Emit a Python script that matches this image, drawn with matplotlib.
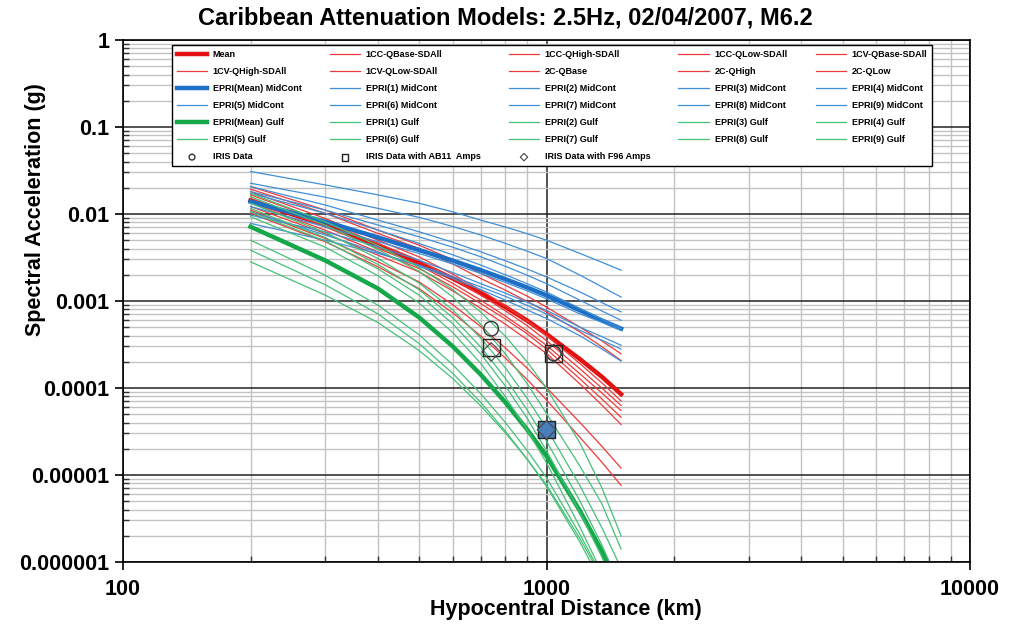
import matplotlib.pyplot as plt
from matplotlib import font_manager
from matplotlib.ticker import LogLocator, NullFormatter

names = {f.name for f in font_manager.fontManager.ttflist}
narrow = 'Liberation Sans Narrow' if 'Liberation Sans Narrow' in names else 'Liberation Sans'
plt.rcParams['font.family'] = ['Liberation Sans', 'DejaVu Sans']

dist_km = [200, 300, 400, 500, 600, 700, 800, 900, 1000, 1200, 1350, 1500]

# Caribbean models (red)
red_mean = [0.01426, 0.00746, 0.00439, 0.00275, 0.00182, 0.00123, 0.000851, 0.000596,
            0.000417, 0.000214, 0.000135, 8.5e-5]
red_labels = ['1CC-QBase-SDAll', '1CC-QHigh-SDAll', '1CC-QLow-SDAll', '1CV-QBase-SDAll',
              '1CV-QHigh-SDAll', '1CV-QLow-SDAll', '2C-QBase', '2C-QHigh', '2C-QLow']
red_sa = [
    [0.0207, 0.0111, 0.00653, 0.00439, 0.00299, 0.00207, 0.00151, 0.00114, 0.00085, 0.0005, 0.000349, 0.000247],
    [0.0193, 0.0102, 0.00598, 0.00402, 0.00267, 0.00181, 0.00133, 0.00099, 0.00075, 0.00044, 0.000299, 0.000207],
    [0.0181, 0.0089, 0.0050, 0.00322, 0.00204, 0.00133, 0.00088, 0.00059, 0.0004, 0.00019, 0.000115, 7.1e-5],
    [0.0166, 0.00817, 0.00459, 0.00294, 0.00182, 0.00116, 0.00077, 0.00052, 0.00035, 0.000166, 0.0001, 6.3e-5],
    [0.0152, 0.00714, 0.00402, 0.00258, 0.0016, 0.00102, 0.00067, 0.00045, 0.00031, 0.000145, 8.8e-5, 5.5e-5],
    [0.0133, 0.00653, 0.00367, 0.00236, 0.00146, 0.00093, 0.00062, 0.00042, 0.00028, 0.000127, 7.5e-5, 4.6e-5],
    [0.0122, 0.00598, 0.00336, 0.00216, 0.00131, 0.00082, 0.00054, 0.00036, 0.00025, 0.000111, 6.4e-5, 3.8e-5],
    [0.0111, 0.00524, 0.00282, 0.00166, 0.00091, 0.000506, 0.000288, 0.000169, 0.000101, 4.0e-5, 2.15e-5, 1.2e-5],
    [0.0102, 0.0048, 0.00247, 0.00139, 0.000733, 0.000395, 0.00022, 0.000125, 7.3e-5, 2.7e-5, 1.41e-5, 7.6e-6],
]

# EPRI mid-continent (blue)
blue_mean = [0.0139, 0.00817, 0.00538, 0.00385, 0.00292, 0.00226, 0.00178, 0.00143,
             0.00116, 0.00078, 0.0006, 0.00048]
blue_sa = [
    [0.0308, 0.0216, 0.0166, 0.0133, 0.0106, 0.0085, 0.00708, 0.00594, 0.0050, 0.00352, 0.00279, 0.00226],
    [0.0226, 0.0156, 0.0116, 0.00916, 0.0072, 0.00573, 0.00459, 0.00374, 0.00308, 0.00198, 0.00146, 0.00111],
    [0.0207, 0.0127, 0.0085, 0.00625, 0.00474, 0.00367, 0.0029, 0.00233, 0.00189, 0.00127, 0.00096, 0.00075],
    [0.0173, 0.0102, 0.00653, 0.00459, 0.0034, 0.00258, 0.0020, 0.00158, 0.00127, 0.00082, 0.00062, 0.00048],
    [0.0122, 0.00714, 0.0048, 0.00352, 0.00267, 0.00207, 0.00163, 0.00131, 0.00106, 0.00071, 0.00057, 0.00046],
    [0.0097, 0.00625, 0.0042, 0.00294, 0.00213, 0.00158, 0.00123, 0.00097, 0.00078, 0.0005, 0.00039, 0.00031],
    [0.0078, 0.0050, 0.00352, 0.00258, 0.00191, 0.00145, 0.00113, 0.00089, 0.00071, 0.00046, 0.000355, 0.00028],
    [0.0106, 0.00575, 0.00363, 0.00251, 0.00182, 0.00135, 0.00102, 0.00079, 0.00063, 0.000398, 0.000282, 0.000204],
    [0.0181, 0.0111, 0.00747, 0.00547, 0.00416, 0.00322, 0.0025, 0.00198, 0.00158, 0.00102, 0.00077, 0.0006],
]

# EPRI gulf (green)
green_mean = [0.00714, 0.00293, 0.00139, 0.000649, 0.000302, 0.000142, 6.8e-5, 3.33e-5,
              1.65e-5, 3.85e-6, 1.34e-6, 4.6e-7]
green_sa = [
    [0.0173, 0.00817, 0.00434, 0.00243, 0.00136, 0.000743, 0.000392, 0.0002, 9.95e-5, 2.32e-5, 7.2e-6, 2.0e-6],
    [0.0158, 0.00746, 0.00391, 0.00219, 0.00112, 0.000537, 0.000245, 0.000112, 5.1e-5, 1.26e-5, 4.7e-6, 1.41e-6],
    [0.0133, 0.00615, 0.00308, 0.00161, 0.000794, 0.000373, 0.00017, 7.6e-5, 3.45e-5, 7.5e-6, 2.5e-6, 8.5e-7],
    [0.0116, 0.00537, 0.00263, 0.00135, 0.000646, 0.000295, 0.000129, 5.6e-5, 2.45e-5, 5.0e-6, 1.58e-6, 5.0e-7],
    [0.0106, 0.0049, 0.00234, 0.00117, 0.00055, 0.000245, 0.000105, 4.5e-5, 1.9e-5, 3.7e-6, 1.15e-6, 3.5e-7],
    [0.0093, 0.00417, 0.00195, 0.00095, 0.000437, 0.000191, 7.9e-5, 3.3e-5, 1.38e-5, 2.5e-6, 7.6e-7, 2.3e-7],
    [0.0050, 0.00198, 0.000895, 0.000409, 0.000186, 8.55e-5, 4.0e-5, 1.91e-5, 9.3e-6, 2.07e-6, 7.0e-7, 2.4e-7],
    [0.00384, 0.00154, 0.000711, 0.000325, 0.000148, 6.8e-5, 3.18e-5, 1.52e-5, 7.4e-6, 1.68e-6, 5.7e-7, 1.9e-7],
    [0.00282, 0.00117, 0.000565, 0.00027, 0.000129, 6.2e-5, 3.04e-5, 1.52e-5, 7.7e-6, 1.85e-6, 6.6e-7, 2.3e-7],
]

# IRIS observations
iris_dist = [740, 1040]
iris_sa = [4.8e-4, 2.5e-4]
ab11_dist = [740, 1040, 1000]
ab11_sa = [2.9e-4, 2.5e-4, 3.3e-5]
f96_dist = [740, 1040, 1000]
f96_sa = [2.6e-4, 2.5e-4, 3.3e-5]

fig = plt.figure(figsize=(10.1, 6.25), dpi=100)
ax = fig.add_axes([0.1218, 0.1008, 0.8386, 0.8352])
ax.set_xscale('log')
ax.set_yscale('log')

handles, labels = [], []

h, = ax.plot(dist_km, red_mean, color='#e31212', lw=3.2)
handles.append(h); labels.append('Mean')
for lab, sa in zip(red_labels, red_sa):
    h, = ax.plot(dist_km, sa, color='#ee3a3a', lw=0.9)
    handles.append(h); labels.append(lab)

h, = ax.plot(dist_km, blue_mean, color='#1c6fc4', lw=3.2)
handles.append(h); labels.append('EPRI(Mean) MidCont')
for i, sa in enumerate(blue_sa):
    h, = ax.plot(dist_km, sa, color='#3f8fd8', lw=0.9)
    handles.append(h); labels.append(f'EPRI({i + 1}) MidCont')

h, = ax.plot(dist_km, green_mean, color='#14a84b', lw=3.2)
handles.append(h); labels.append('EPRI(Mean) Gulf')
for i, sa in enumerate(green_sa):
    h, = ax.plot(dist_km, sa, color='#45c077', lw=0.9)
    handles.append(h); labels.append(f'EPRI({i + 1}) Gulf')

face = ['none', 'none', '#4a7ebb']
h = ax.scatter(iris_dist, iris_sa, s=110, marker='o', facecolors='none',
               edgecolors='#333333', linewidths=1.0, zorder=5)
handles.append(h); labels.append('IRIS Data')
h = ax.scatter(ab11_dist, ab11_sa, s=150, marker='s', facecolors=face,
               edgecolors='#222222', linewidths=1.0, zorder=5)
handles.append(h); labels.append('IRIS Data with AB11  Amps')
h = ax.scatter(f96_dist, f96_sa, s=90, marker='D', facecolors=face,
               edgecolors='#444444', linewidths=0.8, zorder=6)
handles.append(h); labels.append('IRIS Data with F96 Amps')

ax.set_xlim(100, 10000)
ax.set_ylim(1e-6, 1)

ax.set_xticks([100, 1000, 10000], ['100', '1000', '10000'], fontsize=15.5, fontweight='bold')
ax.set_yticks([1e-6, 1e-5, 1e-4, 1e-3, 1e-2, 1e-1, 1],
              ['0.000001', '0.00001', '0.0001', '0.001', '0.01', '0.1', '1'],
              fontsize=15.5, fontweight='bold')
for axis in (ax.xaxis, ax.yaxis):
    axis.set_minor_locator(LogLocator(base=10, subs=range(2, 10)))
    axis.set_minor_formatter(NullFormatter())
ax.tick_params(which='major', direction='out', length=6, width=1.2, color='black')
ax.tick_params(axis='x', which='major', pad=6)
ax.tick_params(axis='y', which='major', pad=4)
ax.tick_params(which='minor', direction='in', length=4, width=1, color='#333333')

ax.set_axisbelow(True)
ax.grid(True, which='minor', color='#c2c2c2', lw=1.0)
ax.grid(True, which='major', color='#222222', lw=1.1)
for sp in ax.spines.values():
    sp.set_color('black')
    sp.set_linewidth(1.2)

# legend is filled row by row in the reference, matplotlib fills by column
order = [i for c in range(5) for i in range(c, len(handles), 5)]
leg = ax.legend([handles[i] for i in order], [labels[i] for i in order], ncol=5,
                loc='upper left', bbox_to_anchor=(0.058, 0.99, 0.897, 0.0), mode='expand',
                borderaxespad=0, prop=dict(family=narrow, weight='bold', size=6.5),
                handlelength=3.4, handletextpad=0.6, labelspacing=0.9, markerscale=0.4,
                fancybox=False, framealpha=1, edgecolor='black', borderpad=0.5)
leg.get_frame().set_linewidth(1.0)

fig.text(0.5, 0.972, 'Caribbean Attenuation Models: 2.5Hz, 02/04/2007, M6.2',
         ha='center', va='center', fontsize=17, fontweight='bold', family=narrow)
fig.text(0.5604, 0.024, 'Hypocentral Distance (km)', ha='center', va='center',
         fontsize=15.5, fontweight='bold')
fig.text(0.0347, 0.664, 'Spectral Acceleration (g)', ha='center', va='center',
         rotation=90, fontsize=15.5, fontweight='bold')

fig.savefig('out.png', dpi=100)
